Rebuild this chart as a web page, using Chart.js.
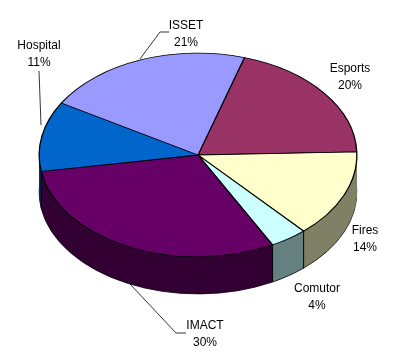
<!DOCTYPE html>
<html>
<head>
<meta charset="utf-8">
<style>html,body{margin:0;padding:0;background:#fff}canvas{display:block}</style>
<script src="https://cdn.jsdelivr.net/npm/chart.js@4"></script>
</head>
<body>
<canvas id="c" width="411" height="364"></canvas>
<script>
const categories = ['Esports', 'Fires', 'Comutor', 'IMACT', 'Hospital', 'ISSET'];
const values = [19.8, 13.9, 3.8, 30.2, 11.1, 21.2];
const topColors = ['#993366', '#FFFFCC', '#CCFFFF', '#660066', '#0066CC', '#9999FF'];
const wallColors = ['#4D1A33', '#808066', '#668080', '#330033', '#003366', '#4D4D80'];

// label layout, pixel positions of the annotation text and its leader lines
const labelCenters = [[350, 69], [365, 231], [317, 289], [205, 326], [39, 46], [186, 26]];
const leaders = [null, null, null,
  [[130, 284], [176, 333], [186, 333]],
  [[39, 71], [41, 125]],
  [[140, 59], [160, 32], [169, 32]]];

const view = { cx: 198, cy: 155, squash: 0.6415, depth: 37, rotation: 17 };

function project(ctx, el) {
  ctx.translate(view.cx, view.cy);
  ctx.scale(1, view.squash);
  ctx.translate(-el.x, -el.y);
}

const pie3d = {
  id: 'pie3d',
  beforeDatasetDraw(chart) {
    const ctx = chart.ctx;
    const arcs = chart.getDatasetMeta(0).data;
    for (let d = view.depth; d >= 1; d--) {
      ctx.save();
      ctx.translate(0, d);
      project(ctx, arcs[0]);
      arcs.forEach((el, i) => {
        const orig = el.options;
        const o = Object.create(orig);
        o.backgroundColor = wallColors[i];
        o.borderWidth = d === view.depth ? 1 : 0;
        o.borderColor = d === view.depth ? '#000' : wallColors[i];
        el.options = o;
        el.draw(ctx);
        el.options = orig;
      });
      ctx.restore();
    }
    ctx.save();
    project(ctx, arcs[0]);
  },
  afterDatasetDraw(chart) {
    const ctx = chart.ctx;
    ctx.restore();
    const arcs = chart.getDatasetMeta(0).data;
    ctx.save();
    ctx.strokeStyle = '#000';
    ctx.lineWidth = 1;
    arcs.forEach(el => {
      const a = el.startAngle;
      if (Math.sin(a) > 0) {
        const x = view.cx + el.outerRadius * Math.cos(a);
        const y = view.cy + el.outerRadius * view.squash * Math.sin(a);
        ctx.beginPath();
        ctx.moveTo(x, y);
        ctx.lineTo(x, y + view.depth);
        ctx.stroke();
      }
    });
    ctx.lineWidth = 0.8;
    leaders.forEach(pts => {
      if (!pts) return;
      ctx.beginPath();
      pts.forEach((p, i) => i ? ctx.lineTo(p[0], p[1]) : ctx.moveTo(p[0], p[1]));
      ctx.stroke();
    });
    const total = values.reduce((a, b) => a + b, 0);
    ctx.fillStyle = '#000';
    ctx.font = '12px "Liberation Sans", Arial, sans-serif';
    ctx.textAlign = 'center';
    ctx.textBaseline = 'middle';
    categories.forEach((name, i) => {
      const [x, y] = labelCenters[i];
      ctx.fillText(name, x, y);
      ctx.fillText(Math.round(values[i] / total * 100) + '%', x, y + 17);
    });
    ctx.restore();
  }
};

new Chart(document.getElementById('c'), {
  type: 'pie',
  data: {
    labels: categories,
    datasets: [{
      data: values,
      backgroundColor: topColors,
      borderColor: '#000',
      borderWidth: 1.3,
      clip: false
    }]
  },
  options: {
    responsive: false,
    animation: false,
    rotation: view.rotation,
    layout: { padding: { left: 38.5, right: 53.5, top: 0, bottom: 0 } },
    plugins: { legend: { display: false }, tooltip: { enabled: false } }
  },
  plugins: [pie3d]
});
</script>
</body>
</html>
